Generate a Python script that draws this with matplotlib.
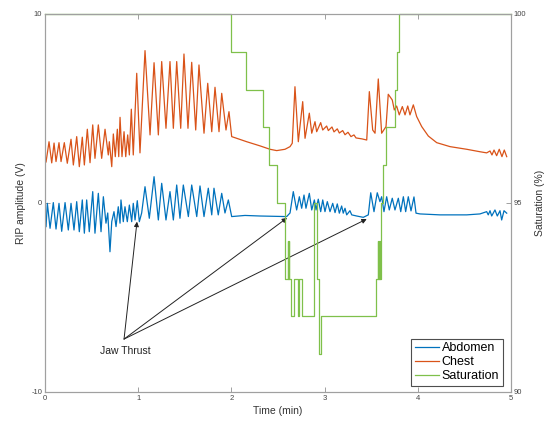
import matplotlib
matplotlib.use("Agg")
import matplotlib.pyplot as plt

plt.rcParams['font.family'] = ['Liberation Sans', 'DejaVu Sans']
plt.rcParams['axes.unicode_minus'] = False

# abdomen RIP trace: turning points (time in min, amplitude in V)
abd_t = [0.011, 0.025, 0.054, 0.089, 0.118, 0.150, 0.179, 0.215, 0.250, 0.279,
         0.311, 0.340, 0.368, 0.400, 0.422, 0.447, 0.475, 0.512, 0.536, 0.572,
         0.601, 0.626, 0.654, 0.673, 0.697, 0.716, 0.740, 0.762, 0.786, 0.805,
         0.815, 0.840, 0.858, 0.883, 0.905, 0.930, 0.947, 0.966, 0.990, 1.012,
         1.037, 1.073, 1.119, 1.170, 1.216, 1.252, 1.298, 1.341, 1.377, 1.413,
         1.448, 1.484, 1.538, 1.574, 1.628, 1.663, 1.706, 1.752, 1.789, 1.813,
         1.859, 1.896, 1.931, 1.967, 2.003, 2.146, 2.307, 2.468, 2.593, 2.629,
         2.664, 2.700, 2.729, 2.754, 2.779, 2.800, 2.836, 2.862, 2.890, 2.908,
         2.932, 2.958, 2.980, 3.004, 3.029, 3.058, 3.087, 3.112, 3.136, 3.158,
         3.183, 3.200, 3.219, 3.237, 3.272, 3.291, 3.344, 3.415, 3.469, 3.495,
         3.530, 3.565, 3.594, 3.612, 3.637, 3.666, 3.694, 3.726, 3.755, 3.791,
         3.817, 3.845, 3.870, 3.898, 3.927, 3.959, 3.981, 4.024, 4.238, 4.525,
         4.667, 4.739, 4.756, 4.775, 4.793, 4.828, 4.853, 4.882, 4.900, 4.925,
         4.954]
abd_v = [-1.25, -0.02, -1.34, 0.02, -1.38, -0.02, -1.50, 0.02, -1.43, -0.02,
         -1.43, 0.07, -1.52, 0.16, -1.60, 0.16, -1.52, 0.60, -1.60, 0.51,
         -1.52, 0.33, -1.07, -0.53, -2.58, -0.99, -0.46, -1.25, -0.20, -1.07,
         0.16, -0.99, -0.20, -0.99, -0.11, -0.99, -0.02, -0.90, 0.12, -0.99,
         -0.53, 0.86, -0.81, 1.39, -0.90, 1.04, -0.90, 0.60, -0.90, 0.95,
         -0.81, 0.95, -0.72, 0.95, -0.72, 0.90, -0.72, 0.78, -0.63, 0.78,
         -0.63, 0.51, -0.53, 0.16, -0.72, -0.66, -0.69, -0.71, -0.72, -0.53,
         0.60, -0.37, 0.33, -0.28, 0.42, -0.28, 0.51, -0.37, 0.16, -0.37,
         0.20, -0.46, 0.16, -0.46, 0.07, -0.46, -0.02, -0.51, -0.05, -0.54,
         -0.16, -0.54, -0.28, -0.63, -0.41, -0.63, -0.69, -0.76, -0.63, 0.54,
         -0.46, 0.54, 0.07, 0.33, -0.46, 0.33, -0.37, 0.25, -0.37, 0.25,
         -0.46, 0.33, -0.46, 0.33, -0.42, 0.32, -0.54, -0.58, -0.63, -0.63,
         -0.58, -0.46, -0.63, -0.41, -0.69, -0.37, -0.69, -0.41, -0.90, -0.41,
         -0.54]

# chest RIP trace: turning points (time in min, amplitude in V)
chest_t = [0.011, 0.043, 0.072, 0.097, 0.118, 0.150, 0.172, 0.207, 0.239, 0.279,
           0.304, 0.340, 0.368, 0.400, 0.422, 0.454, 0.483, 0.512, 0.536, 0.572,
           0.608, 0.644, 0.679, 0.690, 0.716, 0.733, 0.754, 0.776, 0.791, 0.805,
           0.826, 0.848, 0.866, 0.887, 0.905, 0.926, 0.947, 0.984, 1.019, 1.073,
           1.127, 1.170, 1.216, 1.252, 1.298, 1.341, 1.377, 1.413, 1.456, 1.491,
           1.534, 1.574, 1.617, 1.652, 1.706, 1.746, 1.789, 1.824, 1.867, 1.896,
           1.942, 1.974, 2.003, 2.057, 2.164, 2.307, 2.414, 2.486, 2.575, 2.629,
           2.653, 2.682, 2.718, 2.765, 2.790, 2.836, 2.862, 2.897, 2.915, 2.958,
           2.980, 3.022, 3.040, 3.079, 3.101, 3.136, 3.158, 3.194, 3.219, 3.251,
           3.283, 3.315, 3.337, 3.401, 3.452, 3.480, 3.516, 3.541, 3.576, 3.612,
           3.659, 3.683, 3.726, 3.748, 3.773, 3.801, 3.834, 3.863, 3.892, 3.916,
           3.952, 3.988, 4.042, 4.113, 4.203, 4.346, 4.525, 4.667, 4.739, 4.775,
           4.796, 4.818, 4.846, 4.874, 4.903, 4.928, 4.954]
chest_v = [2.17, 3.24, 2.12, 3.17, 2.19, 3.19, 2.19, 3.19, 2.10, 3.37,
           2.01, 3.51, 1.92, 3.48, 2.01, 3.90, 2.13, 4.13, 2.36, 4.13,
           2.36, 3.90, 2.54, 3.24, 1.92, 3.65, 2.45, 3.90, 2.45, 4.53,
           2.45, 3.77, 2.45, 3.60, 2.54, 4.96, 2.54, 6.86, 2.65, 8.06,
           3.60, 7.42, 3.60, 7.48, 3.95, 7.48, 3.95, 7.48, 3.95, 7.88,
           3.95, 7.44, 3.86, 7.30, 3.69, 6.33, 3.77, 6.12, 3.77, 5.80,
           3.86, 4.83, 3.51, 3.42, 3.24, 3.02, 2.84, 2.77, 2.84, 2.98,
           3.16, 6.15, 3.24, 5.36, 3.42, 4.75, 3.69, 4.30, 3.77, 4.25,
           3.86, 4.07, 3.83, 4.02, 3.76, 3.92, 3.70, 3.83, 3.61, 3.74,
           3.51, 3.60, 3.44, 3.39, 3.33, 5.89, 3.86, 3.69, 6.56, 3.69,
           4.04, 5.75, 5.45, 4.92, 5.13, 4.66, 5.10, 4.66, 5.13, 4.66,
           5.19, 4.57, 4.04, 3.54, 3.19, 2.98, 2.84, 2.71, 2.65, 2.75,
           2.54, 2.80, 2.50, 2.84, 2.45, 2.80, 2.45]

# SpO2 readings (%), held until the next change
sat_t = [0.000, 1.993, 2.157, 2.336, 2.403, 2.486, 2.575, 2.604, 2.609, 2.614,
         2.619, 2.640, 2.672, 2.711, 2.729, 2.754, 2.890, 2.915, 2.940, 2.958,
         3.552, 3.570, 3.575, 3.580, 3.585, 3.590, 3.595, 3.600, 3.605, 3.630,
         3.659, 3.755, 3.780, 3.800, 5.000]
sat_v = [100, 99, 98, 97, 96, 95, 93, 94, 93, 94,
         93, 92, 93, 92, 93, 92, 95, 93, 91, 92,
         93, 94, 93, 94, 93, 94, 93, 94, 95, 96,
         97, 98, 99, 100, 100]

# jaw thrust events: arrow tips (min, V) and label anchor
jaw_tips = [(0.987, -0.99), (2.597, -0.79), (3.452, -0.85)]
jaw_label = (0.848, -7.2)

c_abd = "#0072BD"
c_chest = "#D95319"
c_sat = "#7fc04a"
c_axis = "#a0a0a0"

fig = plt.figure(figsize=(5.45, 4.21), dpi=100)
ax = fig.add_axes([0.0826, 0.0689, 0.855, 0.898])
ax2 = ax.twinx()

h1, = ax.plot(abd_t, abd_v, color=c_abd, lw=0.9, label="Abdomen",
              solid_joinstyle="round")
h2, = ax.plot(chest_t, chest_v, color=c_chest, lw=0.9, label="Chest",
              solid_joinstyle="round")
h3, = ax2.plot(sat_t, sat_v, color=c_sat, lw=0.9, drawstyle="steps-post",
               label="Saturation", clip_on=False)

ax.set_xlim(0, 5)
ax.set_ylim(-10, 10)
ax2.set_ylim(90, 100)
ax.set_xticks([0, 1, 2, 3, 4, 5])
ax.set_yticks([-10, 0, 10])
ax2.set_yticks([90, 95, 100])

for a in (ax, ax2):
    for s in a.spines.values():
        s.set_color(c_axis)
        s.set_linewidth(0.8)
ax.tick_params(direction="in", length=3.5, width=0.7, color=c_axis,
               labelsize=5.5, labelcolor="#444444", top=True, pad=2)
ax2.tick_params(direction="in", length=3.5, width=0.7, color=c_axis,
                labelsize=5.5, labelcolor="#444444", pad=2)

ax.set_xlabel("Time (min)", fontsize=7.5, color="#333333", labelpad=3)
ax.set_ylabel("RIP amplitude (V)", fontsize=7.5, color="#333333", labelpad=4)
ax2.set_ylabel("Saturation (%)", fontsize=7.5, color="#333333", labelpad=6)

for tip in jaw_tips:
    ax.annotate("", xy=tip, xytext=jaw_label,
                arrowprops=dict(arrowstyle="-|>", color="#222222", lw=0.7,
                                mutation_scale=7, shrinkA=0, shrinkB=0))
ax.text(jaw_label[0] + 0.01, jaw_label[1] - 0.35, "Jaw Thrust", fontsize=7.5,
        color="#222222", ha="center", va="top")

leg = ax2.legend(handles=[h1, h2, h3], loc="lower right",
                 bbox_to_anchor=(0.983, 0.016), borderaxespad=0,
                 fontsize=9, fancybox=False, handlelength=1.9,
                 handletextpad=0.25, labelspacing=0.15, borderpad=0.3)
leg.get_frame().set_edgecolor("#222222")
leg.get_frame().set_linewidth(0.8)

fig.savefig("out.png", dpi=100)
